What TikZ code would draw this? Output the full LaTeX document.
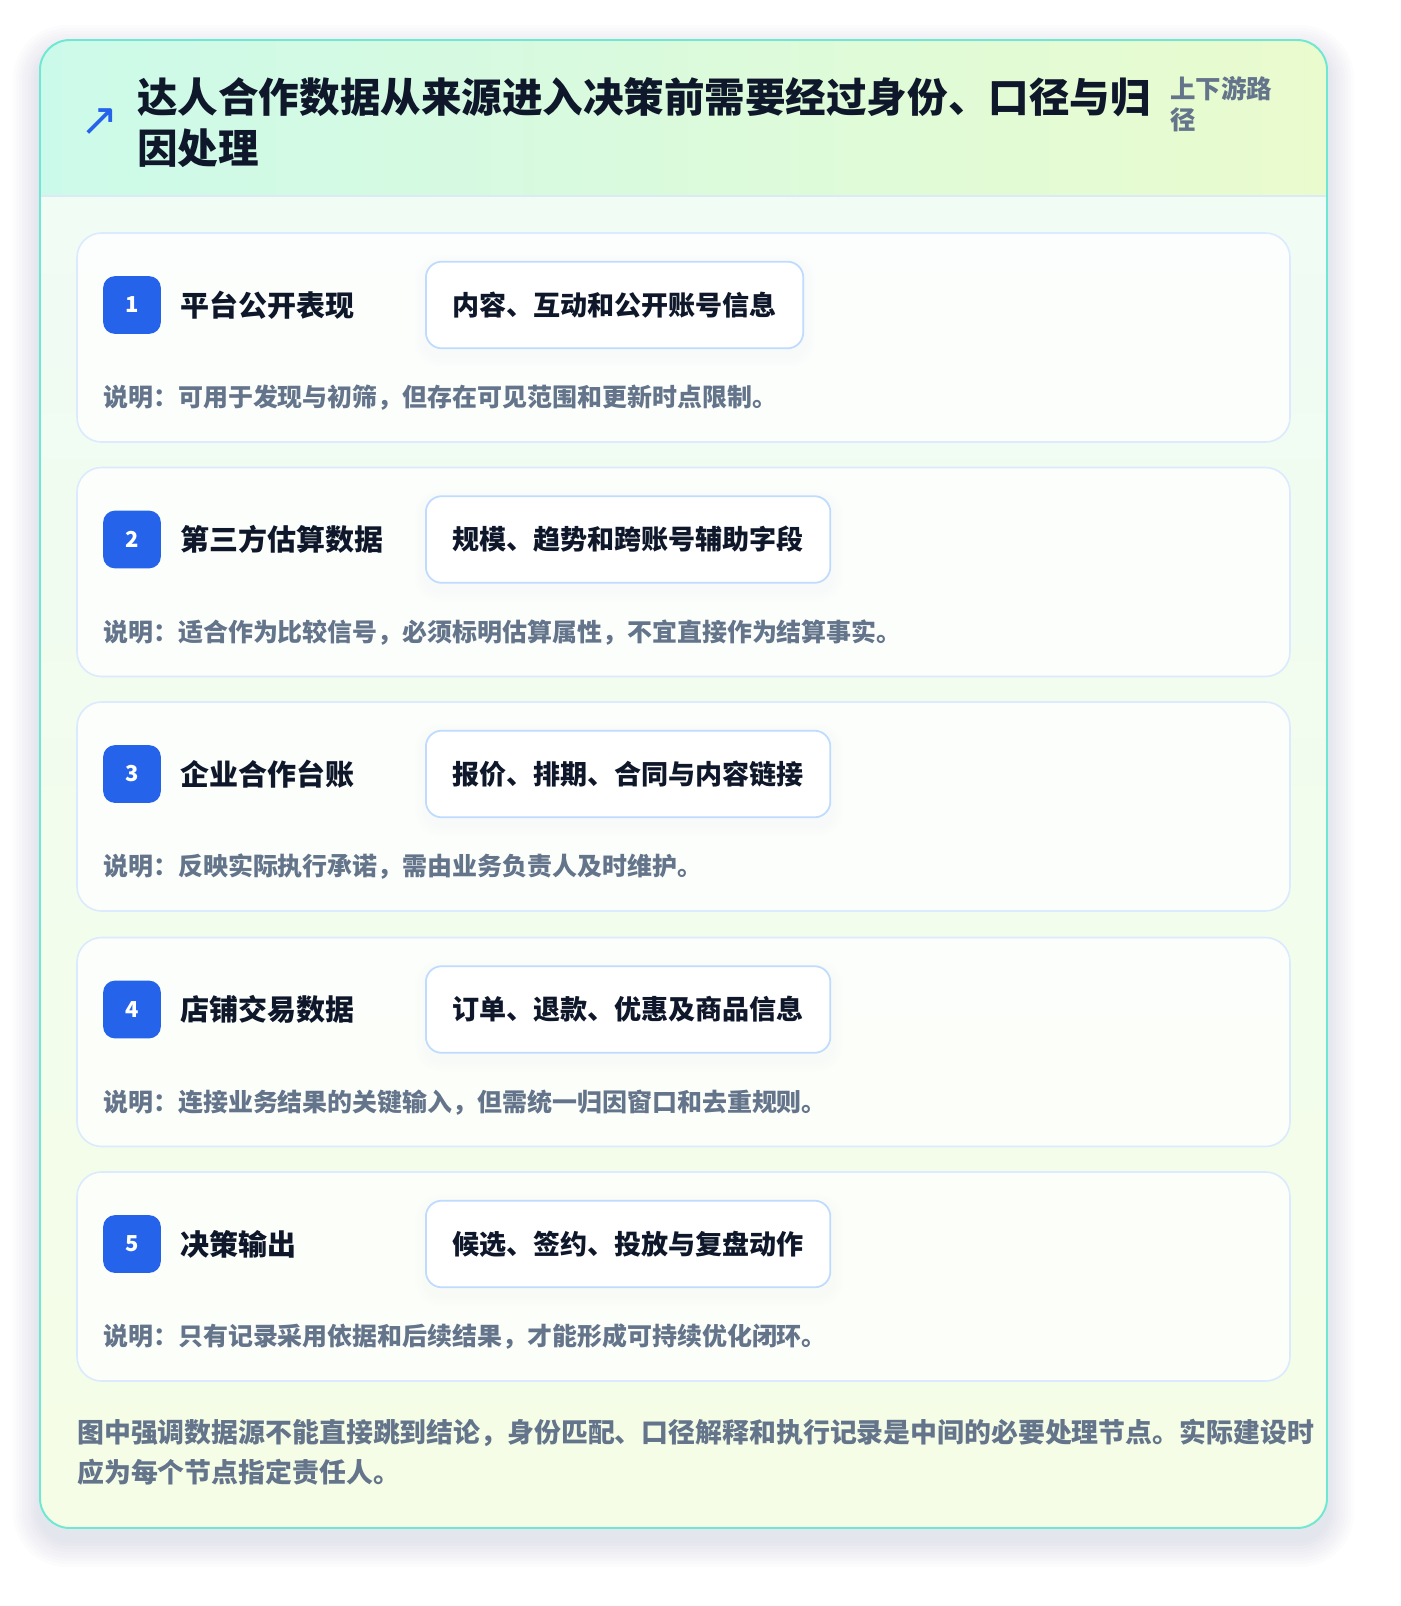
\documentclass[tikz,border=0pt]{standalone}
\usepackage{fontspec}
\setmainfont{Noto Sans CJK SC}
\newfontfamily\symfont{DejaVu Sans}

\definecolor{pagebg}{HTML}{FFFFFF}
\definecolor{frameline}{HTML}{6EE7D3}
\definecolor{headleft}{HTML}{CCFAEA}
\definecolor{headright}{HTML}{EAFBCE}
\definecolor{bodytop}{HTML}{EFFCF6}
\definecolor{bodybottom}{HTML}{F5FDE6}
\definecolor{sepline}{HTML}{DCEAF5}
\definecolor{cardline}{HTML}{DBEAFE}
\definecolor{pillline}{HTML}{BFDBFE}
\definecolor{badgeblue}{HTML}{2563EB}
\definecolor{inkdark}{HTML}{0F172A}
\definecolor{inkgrey}{HTML}{64748B}
\definecolor{shadowgrey}{HTML}{334155}

\tikzset{
  rowcard/.style={draw=cardline, line width=0.9pt, fill=white, fill opacity=0.75, rounded corners=14pt},
  badge/.style={fill=badgeblue, text=white, rounded corners=6.8pt, minimum size=32.9pt, inner sep=0pt,
    font=\fontsize{12.5pt}{13pt}\selectfont\bfseries},
  rowlabel/.style={anchor=west, inner sep=0pt, text=inkdark, font=\fontsize{16.5pt}{18pt}\selectfont\bfseries},
  pill/.style={anchor=west, draw=pillline, line width=1pt, fill=white, rounded corners=9pt,
    minimum height=49.3pt, inner xsep=15pt, inner ysep=0pt, text=inkdark,
    font=\fontsize{15.4pt}{17pt}\selectfont\bfseries},
  note/.style={anchor=west, inner sep=0pt, text=inkgrey, font=\fontsize{14.2pt}{16pt}\selectfont\bfseries},
  softshadow/.style={fill=shadowgrey, fill opacity=#1},
}

\begin{document}
\begin{tikzpicture}[x=0.02cm, y=-0.02cm]
\useasboundingbox (0,0) rectangle (1400,1606);
\fill[pagebg] (0,0) rectangle (1400,1606);

% outer frame and its shadow
\foreach \s in {1,...,9}
  \fill[softshadow=0.013, rounded corners=17pt+\s*1.5pt] (40-3*\s,52-3*\s) rectangle (1327+3*\s,1540+3*\s);
\fill[rounded corners=17pt, top color=bodytop, bottom color=bodybottom] (40,40) rectangle (1327,1528);
\begin{scope}
\clip[rounded corners=17pt] (40,40) rectangle (1327,1528);
\fill[left color=headleft, right color=headright] (40,40) rectangle (1327,196);
\end{scope}
\draw[sepline, line width=1pt] (40,196) -- (1327,196);
\draw[frameline, line width=1.1pt, rounded corners=17pt] (40,40) rectangle (1327,1528);

% header
\node[text=badgeblue, inner sep=0pt, font=\symfont\fontsize{26pt}{26pt}\selectfont] (icon) at (100,122) {↗};
\node[anchor=west, inner sep=0pt, align=left, text=inkdark, font=\fontsize{23.07pt}{29pt}\selectfont\bfseries] (title) at (137,123)
  {达人合作数据从来源进入决策前需要经过身份、口径与归\\因处理};
\node[anchor=west, inner sep=0pt, align=left, text=inkgrey, font=\fontsize{14.5pt}{18pt}\selectfont\bfseries] (tag) at (1170,104)
  {上下游路\\径};

% pill shadows
\foreach \y/\w in {305/805, 539.5/833, 774/833, 1009.5/833, 1244/833}
  \foreach \s in {1,...,5}
    \fill[softshadow=0.01, rounded corners=9pt+\s*1pt] (425-2*\s,\y-40-2*\s) rectangle (\w+2*\s,\y+52+2*\s);

% row 1
\draw[rowcard] (77,233) rectangle (1290,442);
\node[badge] (b1) at (132,305) {1};
\node[rowlabel] (l1) at (180,305) {平台公开表现};
\node[pill] (p1) at (425,305) {内容、互动和公开账号信息};
\node[note] (n1) at (103,398) {说明：可用于发现与初筛，但存在可见范围和更新时点限制。};

% row 2
\draw[rowcard] (77,467.5) rectangle (1290,676.5);
\node[badge] (b2) at (132,539.5) {2};
\node[rowlabel] (l2) at (180,539.5) {第三方估算数据};
\node[pill] (p2) at (425,539.5) {规模、趋势和跨账号辅助字段};
\node[note] (n2) at (103,632.5) {说明：适合作为比较信号，必须标明估算属性，不宜直接作为结算事实。};

% row 3
\draw[rowcard] (77,702) rectangle (1290,911);
\node[badge] (b3) at (132,774) {3};
\node[rowlabel] (l3) at (180,774) {企业合作台账};
\node[pill] (p3) at (425,774) {报价、排期、合同与内容链接};
\node[note] (n3) at (103,867) {说明：反映实际执行承诺，需由业务负责人及时维护。};

% row 4
\draw[rowcard] (77,937.5) rectangle (1290,1146.5);
\node[badge] (b4) at (132,1009.5) {4};
\node[rowlabel] (l4) at (180,1009.5) {店铺交易数据};
\node[pill] (p4) at (425,1009.5) {订单、退款、优惠及商品信息};
\node[note] (n4) at (103,1102.5) {说明：连接业务结果的关键输入，但需统一归因窗口和去重规则。};

% row 5
\draw[rowcard] (77,1172) rectangle (1290,1381);
\node[badge] (b5) at (132,1244) {5};
\node[rowlabel] (l5) at (180,1244) {决策输出};
\node[pill] (p5) at (425,1244) {候选、签约、投放与复盘动作};
\node[note] (n5) at (103,1337) {说明：只有记录采用依据和后续结果，才能形成可持续优化闭环。};

% footer
\node[anchor=west, inner sep=0pt, align=left, text=inkgrey, font=\fontsize{15.3pt}{22.7pt}\selectfont\bfseries] (foot) at (77,1452)
  {图中强调数据源不能直接跳到结论，身份匹配、口径解释和执行记录是中间的必要处理节点。实际建设时\\应为每个节点指定责任人。};
\end{tikzpicture}
\end{document}
